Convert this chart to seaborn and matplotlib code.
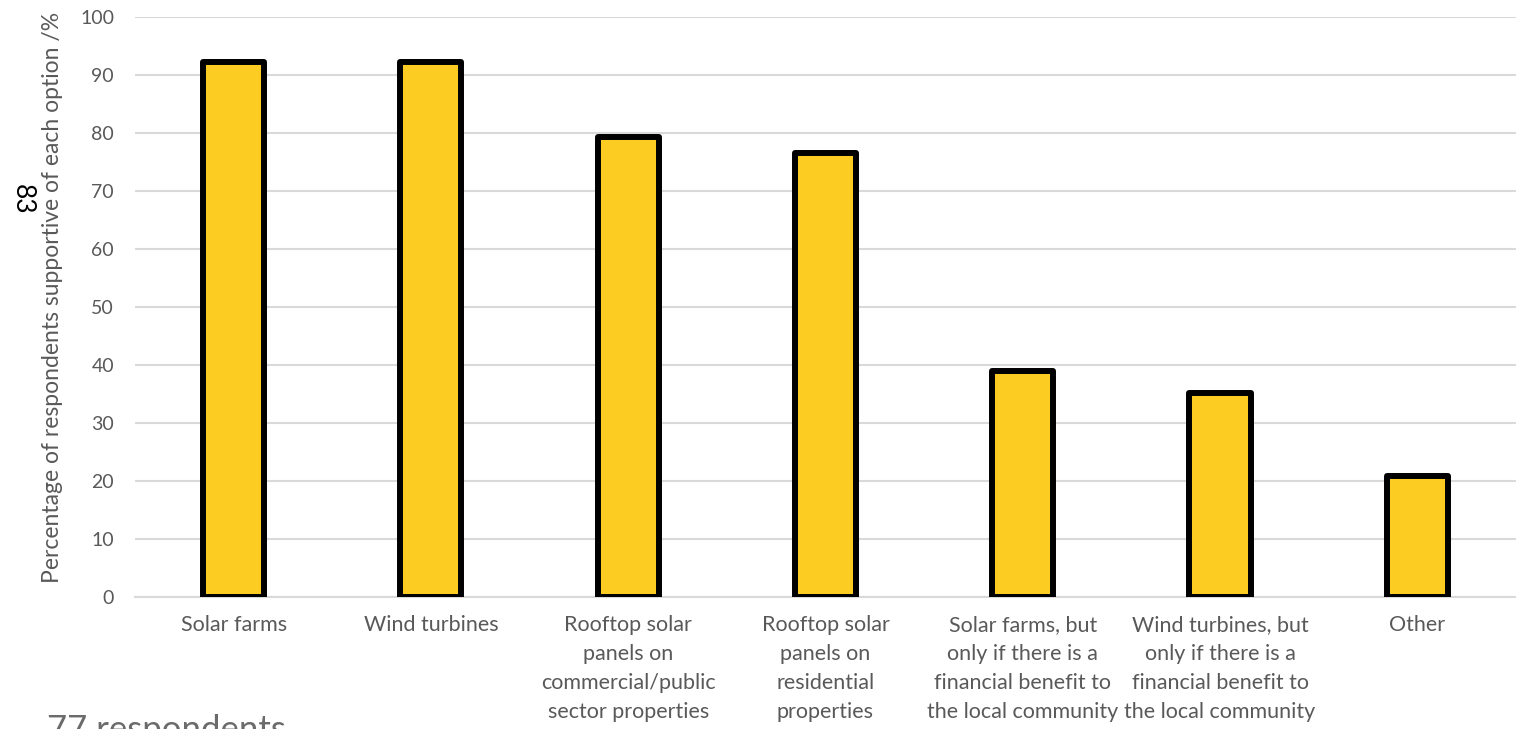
import matplotlib
matplotlib.use("Agg")
import matplotlib.pyplot as plt
import seaborn as sns
import pandas as pd

# categories and share of the 77 respondents supporting each option (%)
options = [
    "Solar farms",
    "Wind turbines",
    "Rooftop solar\npanels on\ncommercial/public\nsector properties",
    "Rooftop solar\npanels on\nresidential\nproperties",
    "Solar farms, but\nonly if there is a\nfinancial benefit to\nthe local community",
    "Wind turbines, but\nonly if there is a\nfinancial benefit to\nthe local community",
    "Other",
]
support_pct = [92.2, 92.2, 79.2, 76.6, 39.0, 35.1, 20.8]
y_ticks = list(range(0, 101, 10))

df = pd.DataFrame({"option": options, "pct": support_pct})

sns.set_style("white")
plt.rcParams["font.family"] = ["Lato", "DejaVu Sans"]

grey = "#595959"
fig = plt.figure(figsize=(15.16, 7.29), dpi=100)
ax = fig.add_axes([0.089, 0.181, 0.911, 0.796])

sns.barplot(data=df, x="option", y="pct", color="#FCCC22", saturation=1,
            width=0.31, edgecolor="black", linewidth=4.3, ax=ax, zorder=3)
for p in ax.patches:
    p.set_joinstyle("round")

ax.set_xlim(-0.5, 6.5)
ax.set_ylim(0, 100)
ax.set_yticks(y_ticks)
ax.yaxis.grid(True, color="#D9D9D9", linewidth=1.5, zorder=0)
ax.set_axisbelow(True)
for s in ["top", "right", "left"]:
    ax.spines[s].set_visible(False)
ax.spines["bottom"].set_color("#D9D9D9")
ax.spines["bottom"].set_linewidth(1.5)
ax.tick_params(axis="y", length=0, labelsize=14, labelcolor=grey, pad=15)
ax.tick_params(axis="x", length=0, labelsize=15.5, labelcolor=grey, pad=13)
for t in ax.get_xticklabels():
    t.set_linespacing(1.55)
ax.set_xlabel("")
ax.set_ylabel("Percentage of respondents supportive of each option /%",
              fontsize=16.5, color=grey)
ax.yaxis.set_label_coords(-0.052, 0.516)

fig.text(0.0145, 0.726, "83", rotation=-90, fontsize=19, color="black",
         ha="center", va="center")
fig.text(0.031, -0.024, "77 respondents", fontsize=25, color="#6b6b6b",
         ha="left", va="bottom")

fig.savefig("out.png", dpi=100)
